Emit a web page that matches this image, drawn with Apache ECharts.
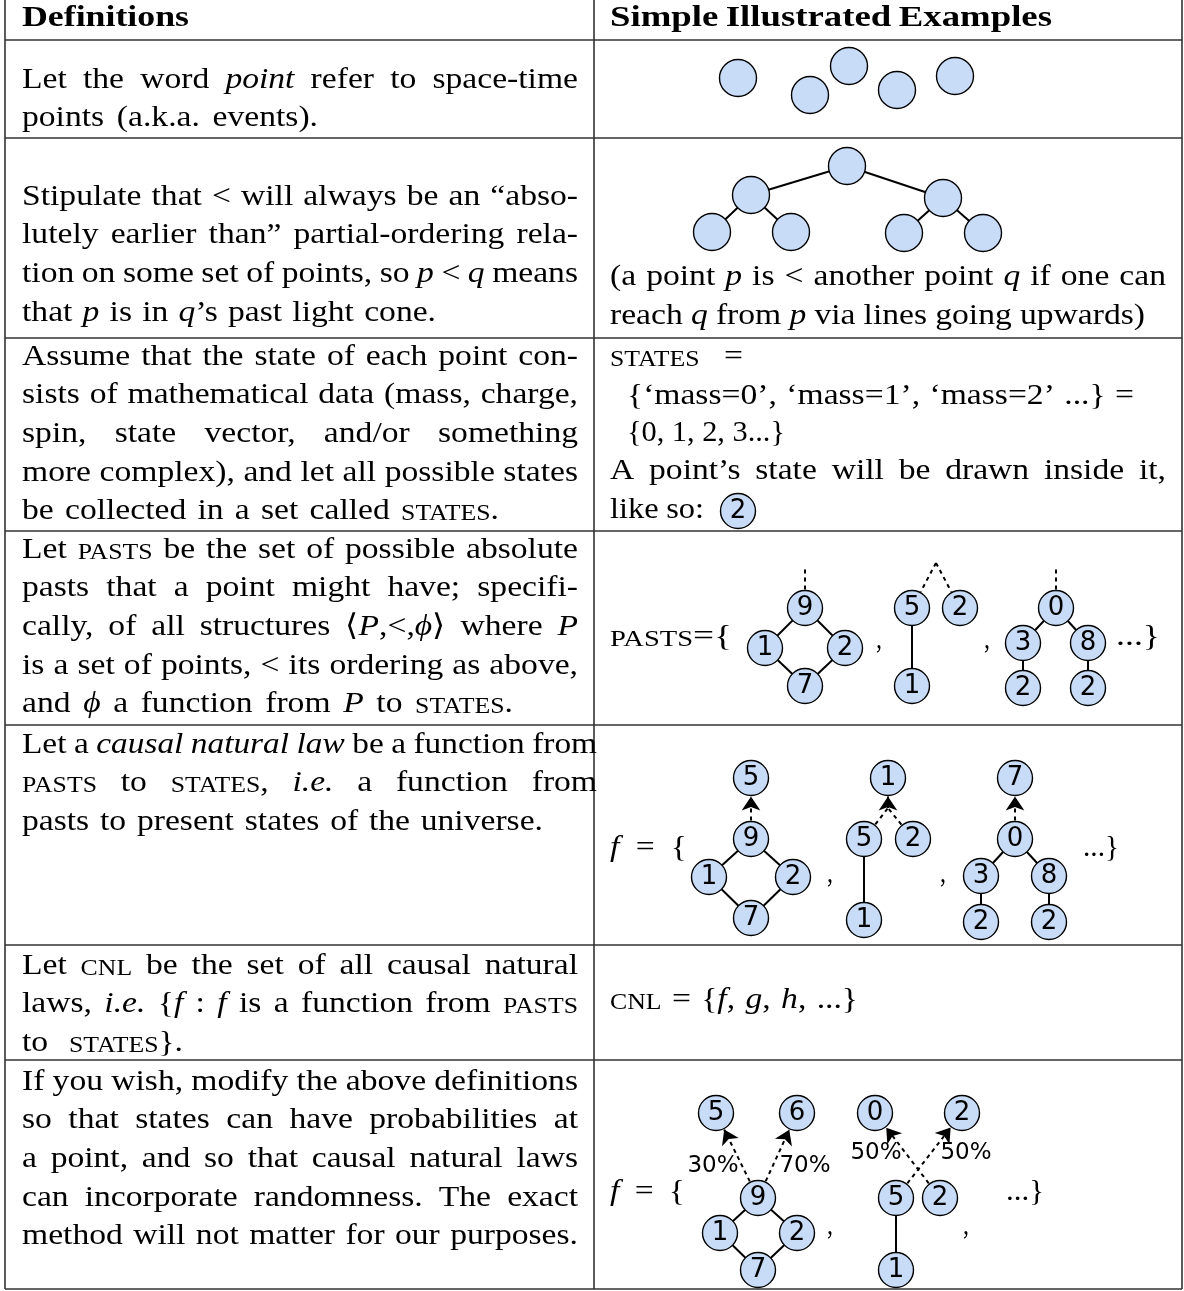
<!DOCTYPE html>
<html>
<head>
<meta charset="utf-8">
<title>Definitions</title>
<script src="https://cdn.jsdelivr.net/npm/echarts@6/dist/echarts.min.js"></script>
<style>
  html, body { margin: 0; padding: 0; background: #fff; }
  #main { width: 1184px; height: 1291px; }
</style>
</head>
<body>
<div id="main"></div>
<script>
// ---- diagram data: [x, y, state]; state null = hidden anchor point ----
const looseDots = [[738, 78], [810, 95], [849, 66], [897, 90], [955, 76]];
const treeDots = [[847, 166], [751, 195], [943, 198], [712, 232], [791, 232], [904, 233], [983, 233]];
const treeLinks = [[0, 1, 's'], [0, 2, 's'], [1, 3, 's'], [1, 4, 's'], [2, 5, 's'], [2, 6, 's']];

const sampleNode = [[738, 511, '2']];

const pastsNodes = [
  [805, 608, '9'], [765, 648, '1'], [845, 648, '2'], [805, 686, '7'],
  [912, 608, '5'], [960, 608, '2'], [912, 686, '1'],
  [1056, 608, '0'], [1023, 643, '3'], [1088, 643, '8'], [1023, 688, '2'], [1088, 688, '2'],
  [805, 566, null], [936, 563, null], [1056, 566, null]
];
const pastsLinks = [
  [0, 1, 's'], [0, 2, 's'], [1, 3, 's'], [2, 3, 's'], [4, 6, 's'],
  [7, 8, 's'], [7, 9, 's'], [8, 10, 's'], [9, 11, 's'],
  [0, 12, 'd'], [13, 4, 'd'], [13, 5, 'd'], [7, 14, 'd']
];

const lawNodes = [
  [751, 778, '5'], [751, 839, '9'], [709, 877, '1'], [793, 877, '2'], [751, 918, '7'],
  [888, 778, '1'], [864, 839, '5'], [913, 839, '2'], [864, 920, '1'],
  [1015, 778, '7'], [1015, 839, '0'], [981, 876, '3'], [1049, 876, '8'], [981, 922, '2'], [1049, 922, '2'],
  [888, 808, null]
];
const lawLinks = [
  [1, 2, 's'], [1, 3, 's'], [2, 4, 's'], [3, 4, 's'], [1, 0, 'a'],
  [6, 8, 's'], [6, 15, 'd'], [7, 15, 'd'], [15, 5, 'a'],
  [10, 11, 's'], [10, 12, 's'], [11, 13, 's'], [12, 14, 's'], [10, 9, 'a']
];

const randNodes = [
  [716, 1113, '5'], [797, 1113, '6'], [758, 1198, '9'], [720, 1233, '1'], [797, 1233, '2'], [758, 1270, '7'],
  [875, 1113, '0'], [962, 1113, '2'], [896, 1198, '5'], [940, 1198, '2'], [896, 1270, '1']
];
const randLinks = [
  [2, 3, 's'], [2, 4, 's'], [3, 5, 's'], [4, 5, 's'], [2, 0, 'a'], [2, 1, 'a'],
  [8, 10, 's'], [8, 7, 'a'], [9, 6, 'a']
];
const pctLabels = [[713, 1166, '30%'], [805, 1166, '70%'], [876, 1153, '50%'], [966, 1153, '50%']];

// ---- text: [line, right edge]; [i|..] italic, [sc|..] small caps, [b|..] bold ----
const headLeft = [['[b|Definitions]', 189]];
const headRight = [['[b|Simple] [b|Illustrated] [b|Examples]', 1052]];

const defRows = [
  { y: 80, lines: [['Let the word [i|point] refer to space-time'], ['points (a.k.a. events).', 318]] },
  { y: 197, lines: [['Stipulate that < will always be an “abso-'], ['lutely earlier than” partial-ordering rela-'],
    ['tion on some set of points, so [i|p] < [i|q] means'], ['that [i|p] is in [i|q]’s past light cone.', 436]] },
  { y: 357, lines: [['Assume that the state of each point con-'], ['sists of mathematical data (mass, charge,'],
    ['spin, state vector, and/or something'], ['more complex), and let all possible states'],
    ['be collected in a set called [sc|STATES].', 499]] },
  { y: 550, lines: [['Let [sc|PASTS] be the set of possible absolute'], ['pasts that a point might have; specifi-'],
    ['cally, of all structures ⟨[i|P],<,[i|ϕ]⟩ where [i|P]'], ['is a set of points, < its ordering as above,'],
    ['and [i|ϕ] a function from [i|P] to [sc|STATES].', 513]] },
  { y: 745, lines: [['Let a [i|causal] [i|natural] [i|law] be a function from', 597],
    ['[sc|PASTS] to [sc|STATES], [i|i.e.] a function from', 597], ['pasts to present states of the universe.', 543]] },
  { y: 966, lines: [['Let [sc|CNL] be the set of all causal natural'], ['laws, [i|i.e.] {[i|f] : [i|f] is a function from [sc|PASTS]'],
    ['to [sc|STATES]}.', 183]] },
  { y: 1082, lines: [['If you wish, modify the above definitions'], ['so that states can have probabilities at'],
    ['a point, and so that causal natural laws'], ['can incorporate randomness. The exact'],
    ['method will not matter for our purposes.']] }
];

// right column: [line, x, y, right]
const exampleLines = [
  ['(a point [i|p] is < another point [i|q] if one can', 610, 277, 1166],
  ['reach [i|q] from [i|p] via lines going upwards)', 610, 316, 1145],
  ['[sc|STATES] =', 610, 357, 743],
  ['{‘mass=0’, ‘mass=1’, ‘mass=2’ ...} =', 627, 396, 1134],
  ['{0, 1, 2, 3...}', 627, 433, 785],
  ['A point’s state will be drawn inside it,', 610, 471, 1166],
  ['like so:', 610, 510, 704],
  ['[sc|PASTS]={', 610, 637, 732],
  ['...}', 1116, 637, 1160],
  [',', 876, 640, 882],
  [',', 984, 640, 990],
  ['[i|f] = {', 610, 848, 687],
  ['...}', 1083, 848, 1119],
  [',', 827, 874, 833],
  [',', 940, 874, 946],
  ['[sc|CNL] = {[i|f], [i|g], [i|h], ...}', 610, 1000, 858],
  ['[i|f] = {', 610, 1192, 685],
  ['...}', 1006, 1192, 1044],
  [',', 827, 1226, 833],
  [',', 963, 1226, 969]
];

// table frame
const colX = [5, 594, 1182];
const rowY = [40, 138, 338, 531, 725, 945, 1060, 1289];

const SERIF = "'Liberation Serif', 'Times New Roman', serif";
const SANS = "'DejaVu Sans', Verdana, sans-serif";
const SIZE = 30;
const STYLE = {
  n: { fontSize: SIZE, fontFamily: SERIF },
  i: { fontSize: SIZE, fontFamily: SERIF, fontStyle: 'italic' },
  sc: { fontSize: 23, fontFamily: SERIF, dy: 2.5 },
  b: { fontSize: SIZE, fontFamily: SERIF, fontWeight: 'bold' }
};
const FILL = '#c8dbf7';
const NODE = 35;
const R = NODE / 2 + 1;

const ctx = document.createElement('canvas').getContext('2d');
function textW(st, t) {
  const f = STYLE[st];
  ctx.font = (f.fontStyle || 'normal') + ' ' + (f.fontWeight || 'normal') + ' ' + f.fontSize + 'px ' + f.fontFamily;
  return ctx.measureText(t).width;
}
const SPACE = textW('n', ' ');

function segs(word) {
  const out = [];
  const re = /\[(\w+)\|([^\]]*)\]/g;
  let last = 0, m;
  while ((m = re.exec(word))) {
    if (m.index > last) out.push(['n', word.slice(last, m.index)]);
    out.push([m[1], m[2]]);
    last = re.lastIndex;
  }
  if (last < word.length) out.push(['n', word.slice(last)]);
  return out;
}

const els = [];
// lay one line out between x0 and right: glyphs stretched a little, the rest goes to the gaps
function setLine(str, x0, y, right, maxK) {
  const words = str.split(' ').map(segs);
  const widths = words.map(w => w.reduce((a, s) => a + textW(s[0], s[1]), 0));
  const sum = widths.reduce((a, b) => a + b, 0);
  const n = words.length;
  const W = right - x0;
  let k = n > 1 ? (W - SPACE * (n - 1)) / sum : W / sum;
  if (n > 1) k = Math.min(maxK || 1.12, Math.max(0.94, k));
  const gap = n > 1 ? (W - sum * k) / (n - 1) : 0;
  let x = x0;
  words.forEach((w, i) => {
    let cx = x;
    w.forEach(([st, t]) => {
      const f = STYLE[st];
      els.push({
        type: 'text', x: cx, y: y + (f.dy || 0), scaleX: k, silent: true,
        style: {
          text: t, fontSize: f.fontSize, fontFamily: f.fontFamily,
          fontStyle: f.fontStyle || 'normal', fontWeight: f.fontWeight || 'normal',
          fill: '#000', align: 'left', verticalAlign: 'middle', textAlign: 'left', textVerticalAlign: 'middle'
        }
      });
      cx += textW(st, t) * k;
    });
    x += widths[i] * k + gap;
  });
}

// frame
rowY.forEach(y => els.push({ type: 'line', silent: true, shape: { x1: colX[0], y1: y, x2: colX[2], y2: y }, style: { stroke: '#333', lineWidth: 1.6 } }));
colX.forEach(x => els.push({ type: 'line', silent: true, shape: { x1: x, y1: 0, x2: x, y2: rowY[rowY.length - 1] }, style: { stroke: '#333', lineWidth: 1.6 } }));

setLine(headLeft[0][0], 22, 18, headLeft[0][1]);
setLine(headRight[0][0], 610, 18, headRight[0][1], 1.3);
defRows.forEach(row => {
  row.lines.forEach((ln, i) => setLine(ln[0], 22, row.y + i * 38.6, ln[1] || 578));
});
exampleLines.forEach(ln => setLine(ln[0], ln[1], ln[2], ln[3]));

// edges
const solid = [], dashed = [], arrows = [];
function clip(from, to) {
  const dx = from[0] - to[0], dy = from[1] - to[1];
  const d = Math.sqrt(dx * dx + dy * dy);
  return [to[0] + dx / d * R, to[1] + dy / d * R];
}
function addLinks(nodes, links) {
  links.forEach(([a, b, kind]) => {
    const p = nodes[a], q = nodes[b];
    let start = [p[0], p[1]], end = [q[0], q[1]];
    if (kind !== 's') {
      if (p[2] != null) start = clip(q, p);
      if (q[2] != null) end = clip(p, q);
    }
    const item = { coords: [start, end] };
    if (kind === 's') solid.push(item);
    else if (kind === 'd') dashed.push(item);
    else arrows.push(item);
  });
}
addLinks(treeDots, treeLinks);
addLinks(pastsNodes, pastsLinks);
addLinks(lawNodes, lawLinks);
addLinks(randNodes, randLinks);

const plainDots = looseDots.concat(treeDots).map(p => ({ value: [p[0], p[1]] }));
const stateDots = [].concat(sampleNode, pastsNodes, lawNodes, randNodes)
  .filter(p => p[2] != null)
  .map(p => ({ value: [p[0], p[1]], name: p[2] }));

const myChart = echarts.init(document.getElementById('main'));
const lineBase = { type: 'lines', coordinateSystem: 'cartesian2d', z: 2, silent: true, polyline: false };
const option = {
  animation: false,
  grid: { left: 0, right: 0, top: 0, bottom: 0 },
  xAxis: { type: 'value', min: 0, max: 1184, show: false },
  yAxis: { type: 'value', min: 0, max: 1291, inverse: true, show: false },
  graphic: { elements: els },
  series: [
    Object.assign({}, lineBase, { lineStyle: { color: '#000', width: 2, opacity: 1, curveness: 0 }, data: solid }),
    Object.assign({}, lineBase, { lineStyle: { color: '#000', width: 2, opacity: 1, type: [4, 4], curveness: 0 }, data: dashed }),
    Object.assign({}, lineBase, {
      symbol: ['none', 'arrow'], symbolSize: 14,
      lineStyle: { color: '#000', width: 2, opacity: 1, type: [4, 4], curveness: 0 }, data: arrows
    }),
    {
      type: 'scatter', z: 5, silent: true, symbol: 'circle', symbolSize: 37,
      itemStyle: { color: FILL, borderColor: '#000', borderWidth: 1.4, opacity: 1 },
      data: plainDots
    },
    {
      type: 'scatter', z: 5, silent: true, symbol: 'circle', symbolSize: NODE,
      itemStyle: { color: FILL, borderColor: '#000', borderWidth: 1.4, opacity: 1 },
      label: { show: true, position: 'inside', formatter: '{b}', fontFamily: SANS, fontSize: 26, color: '#000' },
      data: stateDots
    },
    {
      type: 'scatter', z: 6, silent: true, symbolSize: 0,
      label: { show: true, position: 'inside', formatter: '{b}', fontFamily: SANS, fontSize: 23, color: '#000', opacity: 1 },
      data: pctLabels.map(p => ({ value: [p[0], p[1]], name: p[2] }))
    }
  ]
};
myChart.setOption(option);
</script>
</body>
</html>
